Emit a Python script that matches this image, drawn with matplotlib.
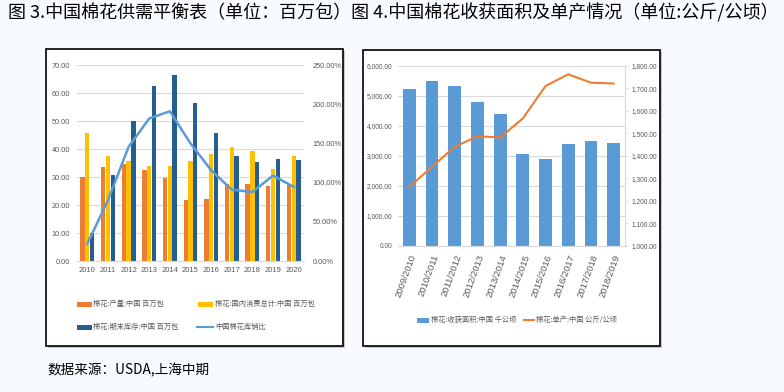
import matplotlib
matplotlib.use('Agg')
import matplotlib.pyplot as plt
from matplotlib.patches import Rectangle
from matplotlib.lines import Line2D
from matplotlib.ticker import FuncFormatter, MultipleLocator
import numpy as np

# ---------------- data ----------------
years = ['2010', '2011', '2012', '2013', '2014', '2015', '2016', '2017', '2018', '2019', '2020']
production = [30.0, 33.6, 34.8, 32.4, 29.7, 21.7, 22.3, 27.5, 27.4, 26.7, 27.0]
consumption = [45.8, 37.4, 35.8, 34.1, 34.1, 35.8, 38.3, 40.7, 39.4, 32.8, 37.4]
ending_stocks = [10.0, 30.8, 50.0, 62.5, 66.3, 56.4, 45.6, 37.6, 35.2, 36.6, 36.0]
stock_use_ratio = [22.0, 77.5, 145.6, 181.8, 191.0, 150.0, 115.8, 91.0, 88.0, 109.0, 94.5]

seasons = ['2009/2010', '2010/2011', '2011/2012', '2012/2013', '2013/2014',
           '2014/2015', '2015/2016', '2016/2017', '2017/2018', '2018/2019']
harvest_area = [5245, 5500, 5323, 4802, 4414, 3050, 2895, 3405, 3493, 3449]
yield_kg = [1263, 1352, 1441, 1488, 1482, 1567, 1711, 1763, 1726, 1722]

title = '图 3.中国棉花供需平衡表（单位：百万包）图 4.中国棉花收获面积及单产情况（单位:公斤/公顷）'
source = '数据来源：USDA,上海中期'
left_legend = ['棉花:产量:中国 百万包', '棉花:国内消费总计:中国 百万包',
               '棉花:期末库存:中国 百万包', '中国棉花库销比']
right_legend = ['棉花:收获面积:中国 千公顷', '棉花:单产:中国 公斤/公顷']

# ---------------- style ----------------
CJK = ['Noto Sans CJK SC', 'DejaVu Sans']
NUM = ['Liberation Sans Narrow', 'Liberation Sans', 'DejaVu Sans']
GREY = '#595959'
GRID = '#D9D9D9'
ORANGE = '#ED7D31'
YELLOW = '#FFC000'
DBLUE = '#255E91'
LBLUE = '#5B9BD5'

W, H = 784, 392
fig = plt.figure(figsize=(W / 100, H / 100), dpi=100, facecolor='#F7FAFE')


def fx(px):
    return px / W


def fy(py):
    return 1 - py / H


def axes_px(l, t, r, b):
    return fig.add_axes([l / W, 1 - b / H, (r - l) / W, (b - t) / H])


def panel(l, t, r, b):
    fig.patches.append(Rectangle((fx(l + 2), fy(b + 2)), (r - l) / W, (b - t) / H,
                                 transform=fig.transFigure, facecolor='#C8C8C8',
                                 edgecolor='none', zorder=-2))
    fig.patches.append(Rectangle((fx(l), fy(b)), (r - l) / W, (b - t) / H,
                                 transform=fig.transFigure, facecolor='white',
                                 edgecolor='black', lw=1.2, zorder=-1))


def leg_patch(x0, x1, y, color, h=5):
    fig.patches.append(Rectangle((fx(x0), fy(y + h / 2)), (x1 - x0) / W, h / H,
                                 transform=fig.transFigure, facecolor=color,
                                 edgecolor='none'))


def leg_line(x0, x1, y, color, lw=1.5):
    fig.lines.append(Line2D([fx(x0), fx(x1)], [fy(y), fy(y)], transform=fig.transFigure,
                            color=color, lw=lw))


def leg_text(x, y, s, size=5.2):
    fig.text(fx(x), fy(y), s, ha='left', va='center', fontsize=size, color=GREY,
             family=CJK)


panel(46, 49, 343, 346)
panel(363, 50, 660, 346)

# ---------------- left chart ----------------
x = np.arange(len(years))
ax1 = axes_px(77, 65, 304, 261)
ax1.set_facecolor('none')
ax1.bar(x - 0.23, production, 0.21, color=ORANGE, zorder=2)
ax1.bar(x, consumption, 0.21, color=YELLOW, zorder=2)
ax1.bar(x + 0.23, ending_stocks, 0.21, color=DBLUE, zorder=2)
ax1.set_xlim(-0.5, len(years) - 0.5)
ax1.set_ylim(0, 70)
ax1.yaxis.set_major_locator(MultipleLocator(10))
ax1.yaxis.set_major_formatter(FuncFormatter(lambda v, p: f'{v:.2f}'))
ax1.set_xticks(x)
ax1.set_xticklabels(years)
ax1.grid(axis='y', color=GRID, lw=0.8, zorder=0)
ax1.set_axisbelow(True)
for s in ['top', 'left', 'right']:
    ax1.spines[s].set_visible(False)
ax1.spines['bottom'].set_color(GRID)
ax1.tick_params(axis='y', length=0, pad=5, labelsize=5.3, colors=GREY)
ax1.tick_params(axis='x', length=0, pad=4, labelsize=5.5, colors=GREY)
for lab in ax1.get_xticklabels() + ax1.get_yticklabels():
    lab.set_family(NUM)

ax1b = ax1.twinx()
ax1b.plot(x, stock_use_ratio, color=LBLUE, lw=1.8, zorder=3)
ax1b.set_ylim(0, 250)
ax1b.yaxis.set_major_locator(MultipleLocator(50))
ax1b.yaxis.set_major_formatter(FuncFormatter(lambda v, p: f'{v:.2f}%'))
for s in ['top', 'left', 'right', 'bottom']:
    ax1b.spines[s].set_visible(False)
ax1b.tick_params(axis='y', length=0, pad=6, labelsize=5.3, colors=GREY)
for lab in ax1b.get_yticklabels():
    lab.set_family(NUM)

leg_patch(77, 92, 304, ORANGE)
leg_text(93, 304, left_legend[0])
leg_patch(198, 213, 304, YELLOW)
leg_text(215, 304, left_legend[1])
leg_patch(77, 92, 327, DBLUE)
leg_text(93, 327, left_legend[2])
leg_line(197, 213, 327, LBLUE)
leg_text(215, 327, left_legend[3])

# ---------------- right chart ----------------
x2 = np.arange(len(seasons))
ax2 = axes_px(398, 66, 625, 246)
ax2.set_facecolor('none')
ax2.bar(x2, harvest_area, 0.56, color=LBLUE, zorder=2)
ax2.set_xlim(-0.5, len(seasons) - 0.5)
ax2.set_ylim(0, 6000)
ax2.yaxis.set_major_locator(MultipleLocator(1000))
ax2.yaxis.set_major_formatter(FuncFormatter(lambda v, p: f'{v:,.2f}'))
ax2.set_xticks(x2)
ax2.set_xticklabels(seasons, rotation=70, ha='right', rotation_mode='anchor')
ax2.grid(axis='y', color=GRID, lw=0.8, zorder=0)
ax2.set_axisbelow(True)
for s in ['top', 'left', 'right']:
    ax2.spines[s].set_visible(False)
ax2.spines['bottom'].set_color(GRID)
ax2.tick_params(axis='y', length=0, pad=4, labelsize=4.8, colors=GREY)
ax2.tick_params(axis='x', length=0, pad=5, labelsize=6.8, colors=GREY)
for lab in ax2.get_xticklabels() + ax2.get_yticklabels():
    lab.set_family(NUM)

ax2b = ax2.twinx()
ax2b.plot(x2, yield_kg, color=ORANGE, lw=1.5, zorder=3)
ax2b.set_ylim(1000, 1800)
ax2b.yaxis.set_major_locator(MultipleLocator(100))
ax2b.yaxis.set_major_formatter(FuncFormatter(lambda v, p: f'{v:,.2f}'))
for s in ['top', 'left', 'bottom']:
    ax2b.spines[s].set_visible(False)
ax2b.spines['right'].set_color(GRID)
ax2b.tick_params(axis='y', length=2, width=0.6, direction='out', pad=3,
                 labelsize=4.8, colors=GREY, color=GRID)
for lab in ax2b.get_yticklabels():
    lab.set_family(NUM)

leg_patch(417, 429, 320, LBLUE)
leg_text(431, 320, right_legend[0])
leg_line(524, 534, 320, ORANGE)
leg_text(536, 320, right_legend[1])

# ---------------- title & source ----------------
fig.text(fx(8), fy(13), title, ha='left', va='center', fontsize=13, color='black',
         family=CJK)
fig.text(fx(47), fy(370), source, ha='left', va='center', fontsize=9.8, color='black',
         family=CJK)

fig.savefig('out.png', dpi=100, facecolor=fig.get_facecolor())
